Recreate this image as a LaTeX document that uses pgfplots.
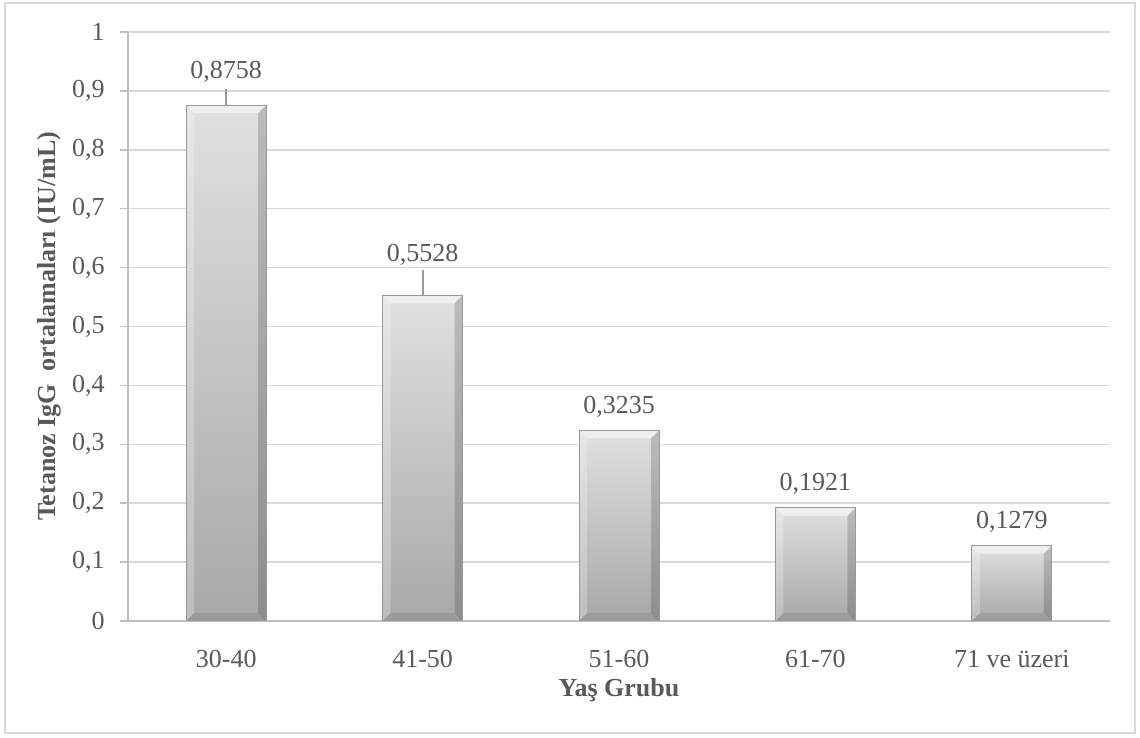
\documentclass[border=0pt]{standalone}
\usepackage{pgfplots}
\pgfplotsset{compat=1.18}
\usepackage{pgfplotstable}
\usepackage{fontspec}
\setmainfont{Liberation Serif}

\definecolor{txt}{HTML}{595959}
\definecolor{gridc}{HTML}{D9D9D9}
\definecolor{axisc}{HTML}{BFBFBF}
\definecolor{bartop}{HTML}{E0E0E0}
\definecolor{barbot}{HTML}{A8A8A8}
\definecolor{barline}{HTML}{9A9A9A}
\definecolor{errc}{HTML}{9A9A9A}

% age group, mean IgG, upper error, label offset (pt)
\pgfplotstableread{
x y err off
0 0.8758 0.027 16.5
1 0.5528 0.043 20.5
2 0.3235 0 12
3 0.1921 0 12
4 0.1279 0 12
}\igg

% corner of the bar being drawn, moved inwards by (dx,dy)
\newcommand\bc[3]{\pgfpointadd{\pgfpointanchor{path picture bounding box}{#1}}{\pgfpoint{#2}{#3}}}
% one bevelled face: colour, opacity, four corners
\newcommand\bface[6]{%
  \begin{pgfscope}
    \pgfsetfillcolor{#1}\pgfsetfillopacity{#2}%
    \pgfpathmoveto{#3}\pgfpathlineto{#4}\pgfpathlineto{#5}\pgfpathlineto{#6}%
    \pgfpathclose\pgfusepath{fill}%
  \end{pgfscope}}
\tikzset{
  bevel/.style={
    path picture={%
      \bface{white}{0.5}{\bc{north west}{0pt}{0pt}}{\bc{north east}{0pt}{0pt}}%
        {\bc{north east}{-4pt}{-4pt}}{\bc{north west}{4pt}{-4pt}}%
      \bface{white}{0.25}{\bc{north west}{0pt}{0pt}}{\bc{north west}{4pt}{-4pt}}%
        {\bc{south west}{4pt}{4pt}}{\bc{south west}{0pt}{0pt}}%
      \bface{black}{0.16}{\bc{north east}{0pt}{0pt}}{\bc{south east}{0pt}{0pt}}%
        {\bc{south east}{-4pt}{4pt}}{\bc{north east}{-4pt}{-4pt}}%
      \bface{black}{0.08}{\bc{south west}{0pt}{0pt}}{\bc{south east}{0pt}{0pt}}%
        {\bc{south east}{-4pt}{4pt}}{\bc{south west}{4pt}{4pt}}%
    }
  }
}

\begin{document}
\begin{tikzpicture}
\useasboundingbox (-64pt,-58.5pt) rectangle (506pt,310.5pt);
\draw[gridc, line width=0.8pt] (-61.5pt,-56pt) rectangle (503.5pt,309pt);
\begin{axis}[
  at={(0,0)}, anchor=south west,
  scale only axis,
  width=491pt, height=294.5pt,
  xmin=-0.5, xmax=4.5,
  ymin=0, ymax=1,
  axis x line*=bottom, axis y line*=left,
  axis line style={axisc, line width=0.75pt},
  xtick={0,1,2,3,4},
  xticklabels={30-40, 41-50, 51-60, 61-70, 71 ve üzeri},
  x tick style={draw=none},
  ytick={0,0.1,...,1.01},
  y tick style={axisc, line width=0.75pt},
  tick align=outside,
  major tick length=4pt,
  ymajorgrids,
  grid style={gridc, line width=0.75pt},
  /pgf/number format/assume math mode=true,
  /pgf/number format/use comma,
  yticklabel={\pgfmathprintnumber[fixed,precision=1]{\tick}},
  tick label style={font=\fontsize{13}{15}\selectfont, text=txt},
  xticklabel style={anchor=center, yshift=-15pt},
  yticklabel style={anchor=east, inner sep=0pt, xshift=-7.5pt},
  xlabel={Yaş Grubu},
  ylabel={Tetanoz IgG\ \ ortalamaları (IU/mL)},
  every axis x label/.style={at={(axis description cs:0.5,-0.1171)}, anchor=center,
    font=\bfseries\fontsize{13}{15}\selectfont, text=txt},
  every axis y label/.style={at={(axis description cs:-0.08,0.5)}, anchor=center, rotate=90,
    font=\bfseries\fontsize{13}{15}\selectfont, text=txt},
  clip=false,
]
% one plot per age group, so that each bar gets its own shading and bevel
\pgfplotsinvokeforeach{0,...,4}{
\addplot[
  ybar, bar width=40pt, bar shift=0pt,
  draw=barline, line width=0.5pt,
  top color=bartop, bottom color=barbot,
  bevel,
  x filter/.expression={abs(x-#1)<0.1 ? x : nan},
  error bars/.cd, y dir=plus, y explicit,
    error mark=none,
    error bar style={errc, line width=0.9pt},
] table[x=x, y=y, y error=err] {\igg};
}
\addplot[
  draw=none, mark=none,
  visualization depends on={\thisrow{off} \as \myoff},
  nodes near coords={\pgfmathprintnumber[fixed,precision=4,fixed zerofill,use comma,assume math mode=true]{\pgfplotspointmeta}},
  every node near coord/.append style={anchor=center, yshift=\myoff pt, font=\fontsize{13}{15}\selectfont, text=txt},
] table[x=x, y=y] {\igg};
\end{axis}
\end{tikzpicture}
\end{document}
